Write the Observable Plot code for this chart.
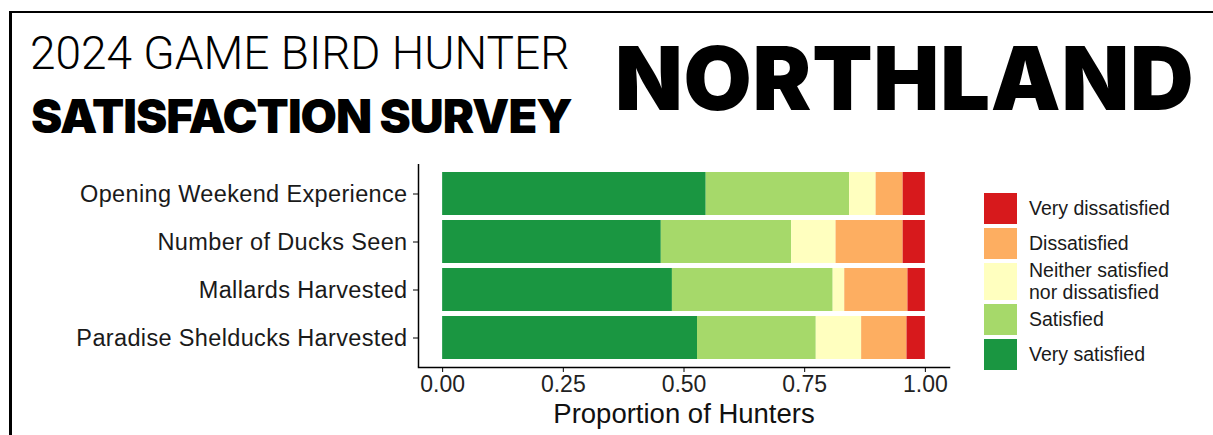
<!DOCTYPE html>
<html><head><meta charset="utf-8">
<script src="https://cdn.jsdelivr.net/npm/d3@7"></script>
<script src="https://cdn.jsdelivr.net/npm/@observablehq/plot@0.6"></script>
<style>
html,body{margin:0;padding:0;background:#fff;}
#page{position:relative;width:1213px;height:435px;overflow:hidden;background:#fff;}
.bt{position:absolute;left:10px;top:11px;width:1203px;height:2px;background:#000}
.bl{position:absolute;left:9px;top:11px;width:3px;height:424px;background:#000}
.t{position:absolute;white-space:nowrap;line-height:1;color:#000;margin:0}
#t1{left:30px;top:30px;font-family:Roboto,sans-serif;font-weight:300;font-size:46px;}
#t2{left:31px;top:92px;font-family:Inter,sans-serif;font-weight:900;font-size:47px;letter-spacing:-1px;}
#t3{left:615px;top:34px;font-family:Inter,sans-serif;font-weight:900;font-size:88px;letter-spacing:0.8px;}
#chart{position:absolute;left:0;top:150px;}
#chart g[aria-label="y-axis tick label"]{letter-spacing:0.35px}
#legend{position:absolute;left:984px;top:193px;font-family:"Liberation Sans",Arial,sans-serif;font-size:19.5px;color:#1a1a1a}
.item{display:flex;align-items:center;margin-bottom:4px;overflow:visible}
.key{width:33px;flex:none;height:100%}
.lab{margin-left:12px;line-height:21.5px;white-space:nowrap}
</style></head>
<body>
<div id="page">
  <div class="bt"></div><div class="bl"></div>
  <div class="t" id="t1">2024 GAME BIRD HUNTER</div>
  <div class="t" id="t2">SATISFACTION SURVEY</div>
  <div class="t" id="t3">NORTHLAND</div>
  <div id="chart"></div>
  <div id="legend"></div>
</div>
<script>
const questions = ["Opening Weekend Experience","Number of Ducks Seen","Mallards Harvested","Paradise Shelducks Harvested"];
const levels = ["Very satisfied","Satisfied","Neither satisfied nor dissatisfied","Dissatisfied","Very dissatisfied"];
const levelColors = ["#1a9641","#a6d96a","#ffffbf","#fdae61","#d7191c"];
const verySatisfied    = [0.546,0.453,0.476,0.528];
const satisfied        = [0.297,0.270,0.333,0.246];
const neither          = [0.055,0.092,0.024,0.094];
const dissatisfied     = [0.056,0.139,0.131,0.094];
const veryDissatisfied = [0.046,0.046,0.036,0.038];
const xTicks = [0,0.25,0.5,0.75,1];
const legendLabels = ["Very dissatisfied","Dissatisfied","Neither satisfied<br>nor dissatisfied","Satisfied","Very satisfied"];
const legendLevels = ["Very dissatisfied","Dissatisfied","Neither satisfied nor dissatisfied","Satisfied","Very satisfied"];
const legendKeyHeights = [31,31,37,31,31];

const series = [verySatisfied, satisfied, neither, dissatisfied, veryDissatisfied];
const data = [];
questions.forEach((q, i) => series.forEach((s, j) => data.push({question: q, level: levels[j], value: s[i]})));

const chart = Plot.plot({
  width: 960, height: 285,
  marginLeft: 418, marginRight: 11, marginTop: 14, marginBottom: 68,
  style: {fontFamily: "'Liberation Sans', Arial, sans-serif", background: "transparent", color: "#000"},
  x: {domain: [-0.05, 1.05]},
  y: {domain: questions, paddingInner: 0.1, paddingOuter: 0.14},
  color: {domain: levels, range: levelColors},
  marks: [
    Plot.barX(data, Plot.stackX({x: "value", y: "question", fill: "level", order: levels})),
    Plot.axisY({tickSize: 5, tickPadding: 6, fontSize: 23.5, fill: "#1a1a1a", label: null}),
    Plot.axisX({ticks: xTicks, tickFormat: d3.format(".2f"), tickSize: 5, tickPadding: 3, fontSize: 23, fill: "#222", label: null}),
    Plot.ruleX([-0.05], {stroke: "#000", strokeWidth: 1.5}),
    Plot.frame({anchor: "bottom", stroke: "#000", strokeWidth: 1.5}),
    Plot.text(["Proportion of Hunters"], {frameAnchor: "bottom", lineAnchor: "middle", dy: 47, fontSize: 27.5, fill: "#111"})
  ]
});
document.getElementById("chart").appendChild(chart);

const color = chart.scale("color");
const legend = document.getElementById("legend");
legendLevels.forEach((lv, i) => {
  const item = document.createElement("div");
  item.className = "item";
  item.style.height = legendKeyHeights[i] + "px";
  const key = document.createElement("div");
  key.className = "key";
  key.style.background = color.apply(lv);
  const lab = document.createElement("div");
  lab.className = "lab";
  lab.innerHTML = legendLabels[i];
  item.appendChild(key); item.appendChild(lab);
  legend.appendChild(item);
});
</script>
</body></html>
